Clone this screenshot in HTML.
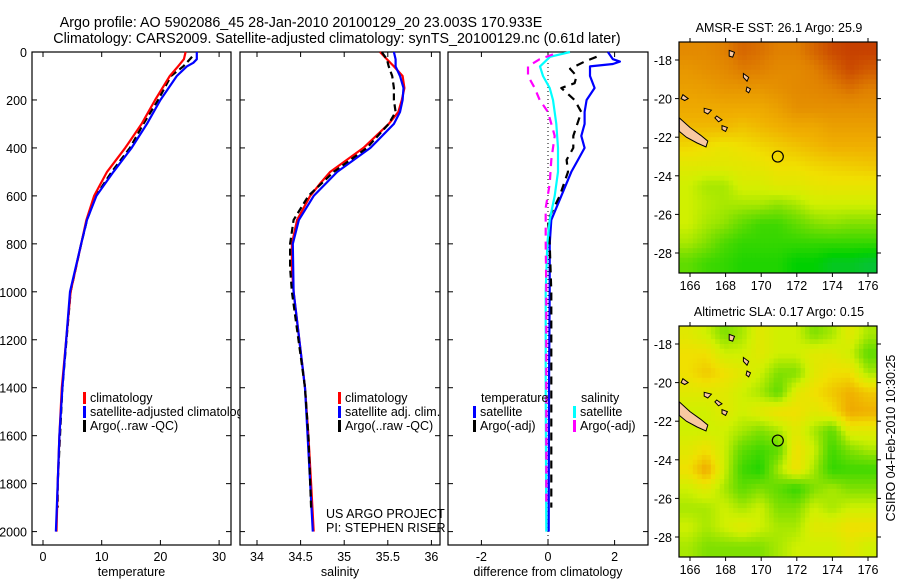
<!DOCTYPE html>
<html><head><meta charset="utf-8">
<style>
html,body{margin:0;padding:0;background:#fff;}
svg{display:block;font-family:"Liberation Sans",sans-serif;}
</style></head>
<body>
<svg id="fig" width="900" height="580" viewBox="0 0 900 580" xmlns="http://www.w3.org/2000/svg">
<text x="301" y="27" font-size="14.3" text-anchor="middle">Argo profile: AO 5902086_45 28-Jan-2010 20100129_20 23.003S 170.933E</text>
<text x="337" y="43" font-size="14.3" text-anchor="middle">Climatology: CARS2009. Satellite-adjusted climatology: synTS_20100129.nc (0.61d later)</text>
<g id="layer"></g>
</svg>
<script>
// ---------- data ----------
const depthTicks=[0,200,400,600,800,1000,1200,1400,1600,1800,2000];
const tempTicks=[0,10,20,30];
const salTicks=[34,34.5,35,35.5,36];
const diffTicks=[-2,0,2];
const lonTicks=[166,168,170,172,174,176];
const latTicks=[-18,-20,-22,-24,-26,-28];

const tClimDepth=[0,30,60,100,200,300,400,500,600,700,800,1000,1400,1600,1800,2000];
const tClim=[24.3,24.0,23.0,21.6,19.1,16.8,14.0,10.9,8.7,7.4,6.5,4.7,3.2,2.8,2.5,2.3];
const tSatDepth=[0,30,45,60,100,200,300,400,500,600,700,800,1000,1400,1600,1800,2000];
const tSat=[26.2,26.2,25.6,24.5,22.8,20.0,17.7,15.1,12.0,9.1,7.5,6.5,4.6,3.3,2.8,2.5,2.2];
const tArgoDepth=[20,60,100,200,300,400,500,600,700,800,1000,1400,1600,1800,1900];
const tArgo=[25.4,23.9,21.8,19.6,17.1,14.8,11.7,9.0,7.5,6.5,4.7,3.3,2.9,2.5,2.5];

const sClimDepth=[0,30,60,100,150,200,250,300,400,500,550,600,700,800,900,1000,1400,1600,1800,2000];
const sClim=[35.41,35.49,35.57,35.67,35.69,35.66,35.62,35.51,35.22,34.84,34.72,34.61,34.46,34.40,34.40,34.42,34.55,34.59,34.62,34.65];
const sSatDepth=[0,30,60,100,150,200,250,300,400,500,600,700,800,1000,1400,1600,1800,2000];
const sSat=[35.57,35.59,35.59,35.64,35.68,35.67,35.64,35.57,35.30,34.92,34.65,34.48,34.41,34.42,34.55,34.58,34.61,34.64];
const sArgoDepth=[0,30,60,100,150,200,250,300,400,500,600,700,800,900,1000,1400,1600,1800,1900];
const sArgo=[35.43,35.49,35.51,35.55,35.57,35.57,35.59,35.51,35.26,34.88,34.59,34.42,34.38,34.38,34.40,34.55,34.59,34.61,34.62];

const dTSatDepth=[0,30,40,50,60,100,150,200,250,300,350,400,450,500,600,700,800,1000,1400,2000];
const dTSat=[1.8,1.95,2.16,1.95,1.26,1.26,1.4,1.16,1.1,1.1,1.0,1.1,0.9,0.7,0.4,0.1,0.05,0.05,0.03,0.02];
const dTArgoDepth=[20,40,70,100,130,150,200,250,350,400,450,500,600,700,800,1000,1500,1900];
const dTArgo=[1.46,1.1,0.66,0.86,0.8,0.4,0.8,1.0,0.76,0.76,0.56,0.6,0.35,0.0,0.05,0.1,0.1,0.1];
const dSSatDepth=[0,20,60,100,150,200,300,400,500,600,700,800,1000,1400,2000];
const dSSat=[0.66,0.06,-0.24,-0.15,0.05,0.15,0.25,0.3,0.3,0.2,0.05,-0.02,-0.07,-0.07,-0.05];
const dSArgoDepth=[10,30,60,100,150,200,250,350,450,550,650,800,1000,1500,1900];
const dSArgo=[0.15,-0.25,-0.6,-0.6,-0.4,-0.25,0.0,0.2,0.1,0.05,-0.07,-0.07,-0.05,-0.05,-0.05];

// map grids: rows lat -17.5 .. -28.5, cols across lon 165.4..176.5 (0..1 colour index)
const sstGrid=[
[0.82,0.82,0.85,0.9,0.88,0.85,0.85,0.9,0.95,0.97,0.97],
[0.78,0.8,0.82,0.86,0.85,0.82,0.82,0.85,0.9,0.95,0.92],
[0.75,0.76,0.78,0.78,0.78,0.8,0.82,0.83,0.85,0.88,0.85],
[0.72,0.72,0.72,0.72,0.72,0.75,0.8,0.8,0.8,0.8,0.8],
[0.68,0.68,0.68,0.66,0.68,0.7,0.72,0.72,0.75,0.75,0.75],
[0.62,0.6,0.58,0.6,0.62,0.64,0.66,0.68,0.7,0.7,0.7],
[0.55,0.55,0.55,0.56,0.57,0.6,0.6,0.62,0.63,0.64,0.65],
[0.5,0.45,0.45,0.52,0.52,0.55,0.55,0.57,0.58,0.58,0.58],
[0.5,0.47,0.45,0.45,0.45,0.42,0.45,0.5,0.5,0.5,0.5],
[0.5,0.45,0.42,0.35,0.3,0.3,0.35,0.4,0.42,0.4,0.4],
[0.45,0.4,0.32,0.28,0.28,0.28,0.28,0.28,0.28,0.28,0.28],
[0.35,0.3,0.28,0.25,0.25,0.25,0.2,0.2,0.15,0.15,0.12]];
const slaGrid=[
[0.55,0.5,0.4,0.45,0.55,0.5,0.5,0.4,0.45,0.55,0.45],
[0.6,0.6,0.5,0.5,0.55,0.5,0.5,0.55,0.55,0.5,0.35],
[0.6,0.65,0.6,0.55,0.5,0.4,0.4,0.55,0.6,0.6,0.45],
[0.55,0.55,0.55,0.5,0.45,0.35,0.55,0.6,0.65,0.7,0.65],
[0.5,0.5,0.55,0.5,0.55,0.6,0.6,0.55,0.6,0.72,0.7],
[0.5,0.5,0.5,0.45,0.4,0.45,0.55,0.45,0.35,0.55,0.55],
[0.55,0.6,0.5,0.35,0.3,0.35,0.6,0.5,0.3,0.4,0.45],
[0.6,0.72,0.5,0.3,0.25,0.45,0.6,0.45,0.28,0.3,0.3],
[0.5,0.55,0.45,0.35,0.4,0.35,0.28,0.4,0.45,0.4,0.4],
[0.45,0.45,0.5,0.45,0.5,0.4,0.4,0.5,0.45,0.5,0.5],
[0.5,0.45,0.5,0.55,0.5,0.45,0.45,0.55,0.55,0.6,0.6],
[0.45,0.4,0.4,0.4,0.4,0.45,0.5,0.5,0.5,0.55,0.5]];
const argoLon=170.933, argoLat=-23.003;

// ---------- helpers ----------
const NS="http://www.w3.org/2000/svg";
const layer=document.getElementById('layer');
function mk(tag,attrs,parent){const e=document.createElementNS(NS,tag);for(const k in attrs)e.setAttribute(k,attrs[k]);(parent||layer).appendChild(e);return e;}
function txt(x,y,s,size,anchor,parent){const e=mk('text',{x:x,y:y,'font-size':size,'text-anchor':anchor||'start'},parent);e.textContent=s;return e;}

const yTop=52, yScale=0.2398;
const yD=d=>yTop+d*yScale;

function panel(name,x0,x1,xf,xticks,xlabel){
  const g=mk('g',{});
  
  
  const r=mk('rect',{x:x0,y:52,width:x1-x0,height:493,fill:'#fff',stroke:'#000','stroke-width':1.2},g);
  
  
  xticks.forEach(v=>{const X=xf(v);
    mk('line',{x1:X,x2:X,y1:52,y2:57,stroke:'#000'},g);
    mk('line',{x1:X,x2:X,y1:545,y2:540,stroke:'#000'},g);
    const t=txt(X,561,String(v),12.5,'middle',g);
    
    
  });
  depthTicks.forEach(d=>{const Y=yD(d);
    mk('line',{x1:x0,x2:x0+5,y1:Y,y2:Y,stroke:'#000'},g);
    mk('line',{x1:x1,x2:x1-5,y1:Y,y2:Y,stroke:'#000'},g);
  });
  const xl=txt((x0+x1)/2,576,xlabel,12.5,'middle',g);
  
  
  return g;
}
function series(g,name,depths,vals,xf,color,dash,w){
  const pts=depths.map((d,i)=>xf(vals[i]).toFixed(1)+','+yD(d).toFixed(1)).join(' ');
  const p=mk('polyline',{points:pts,fill:'none',stroke:color,'stroke-width':w||2.2,'stroke-linejoin':'round'},g);
  if(dash)p.setAttribute('stroke-dasharray',dash);
  
  
}
function legend(g,name,x,y,color,label){
  const b=mk('rect',{x:x,y:y-10,width:3,height:12,fill:color},g);
  
  
  const t=txt(x+7,y,label,12.5,'start',g);
  
  
}

const ya=mk('g',{});


depthTicks.forEach(d=>{const t=txt(27,yD(d)+5,String(d),12.5,'end',ya);
  
  });

// panel 1 temperature
const xT=v=>43+v*5.87;
const g1=panel('temperature',32,231,xT,tempTicks,'temperature');
series(g1,'temperature-argo-line',tArgoDepth,tArgo,xT,'#000','7,4');
series(g1,'temperature-climatology-line',tClimDepth,tClim,xT,'#f00');
series(g1,'temperature-satellite-adjusted-line',tSatDepth,tSat,xT,'#00f');
legend(g1,'legend-climatology',83,402,'#f00','climatology');
legend(g1,'legend-satellite-adjusted',83,416,'#00f','satellite-adjusted climatology');
legend(g1,'legend-argo',83,430,'#000','Argo(..raw -QC)');

// panel 2 salinity
const xS=v=>257+(v-34)*87.2;
const g2=panel('salinity',240,440,xS,salTicks,'salinity');
series(g2,'salinity-climatology-line',sClimDepth,sClim,xS,'#f00');
series(g2,'salinity-satellite-adjusted-line',sSatDepth,sSat,xS,'#00f');
series(g2,'salinity-argo-line',sArgoDepth,sArgo,xS,'#000','7,4');
legend(g2,'legend-sal-climatology',338,402,'#f00','climatology');
legend(g2,'legend-sal-satellite',338,416,'#00f','satellite adj. clim.');
legend(g2,'legend-sal-argo',338,430,'#000','Argo(..raw -QC)');
const c1=txt(326,518,'US ARGO PROJECT',12.5,'start',g2);


const c2=txt(326,532,'PI: STEPHEN RISER',12.5,'start',g2);



// panel 3 differences
const xDf=v=>548+v*33.3;
const g3=panel('difference',448,648,xDf,diffTicks,'difference from climatology');
const zl=mk('line',{x1:xDf(0),x2:xDf(0),y1:55,y2:540,stroke:'#000','stroke-width':1,'stroke-dasharray':'1,3'},g3);


series(g3,'diff-temperature-satellite-line',dTSatDepth,dTSat,xDf,'#00f');
series(g3,'diff-temperature-argo-line',dTArgoDepth,dTArgo,xDf,'#000','8,6');
series(g3,'diff-salinity-satellite-line',dSSatDepth,dSSat,xDf,'#0ff');
series(g3,'diff-salinity-argo-line',dSArgoDepth,dSArgo,xDf,'#f0f','8,6');
const lt=txt(481,402,'temperature',12.5,'start',g3);


const ls=txt(581,402,'salinity',12.5,'start',g3);


legend(g3,'legend-diff-temp-satellite',473,416,'#00f','satellite');
legend(g3,'legend-diff-temp-argo',473,430,'#000','Argo(-adj)');
legend(g3,'legend-diff-sal-satellite',573,416,'#0ff','satellite');
legend(g3,'legend-diff-sal-argo',573,430,'#f0f','Argo(-adj)');

// ---------- maps ----------
const cstops=[[0,[16,176,128]],[0.2,[0,208,0]],[0.4,[128,224,0]],[0.5,[208,240,0]],[0.6,[240,224,0]],[0.7,[240,176,0]],[0.85,[224,128,0]],[1,[192,48,0]]];
function cmap(v){for(let i=1;i<cstops.length;i++){if(v<=cstops[i][0]){const a=cstops[i-1],b=cstops[i],t=(v-a[0])/(b[0]-a[0]);
  const c=a[1].map((q,k)=>Math.round(q+(b[1][k]-q)*t));return 'rgb('+c.join(',')+')';}}return 'rgb(192,48,0)';}
function sample(grid,fr,fc){
  const nr=grid.length,nc=grid[0].length;
  const r=Math.min(Math.max(fr-0.5,0),nr-1), c=Math.min(Math.max(fc-0.5,0),nc-1);
  const r0=Math.floor(r),c0=Math.floor(c),r1=Math.min(r0+1,nr-1),c1=Math.min(c0+1,nc-1);
  const tr=r-r0,tc=c-c0;
  return (grid[r0][c0]*(1-tc)+grid[r0][c1]*tc)*(1-tr)+(grid[r1][c0]*(1-tc)+grid[r1][c1]*tc)*tr;
}

const islands=[
 [[165.4,-21.0],[166.0,-21.5],[166.6,-21.9],[167.0,-22.2],[166.9,-22.5],[166.4,-22.3],[165.8,-22.0],[165.4,-21.7]],
 [[168.2,-17.5],[168.5,-17.6],[168.4,-17.85],[168.2,-17.8]],
 [[169.0,-18.7],[169.3,-18.9],[169.2,-19.1],[169.0,-18.9]],
 [[169.2,-19.4],[169.4,-19.5],[169.3,-19.7],[169.15,-19.6]],
 [[165.6,-19.8],[165.9,-20.0],[165.7,-20.1],[165.5,-20.0]],
 [[166.8,-20.5],[167.2,-20.6],[167.0,-20.8],[166.8,-20.7]],
 [[167.5,-20.9],[167.8,-21.1],[167.6,-21.2],[167.4,-21.0]],
 [[167.8,-21.4],[168.1,-21.5],[168.0,-21.7],[167.8,-21.6]]
];

function map(name,top,bottom,grid,title,lat18y){
  const L=679,R=877,lon0=165.4,lon1=176.5;
  const py=lat=>lat18y+(lat+18)*-19.3;
  const px=lon=>690+(lon-166)*17.8;
  const g=mk('g',{});
  
  
  const clip=mk('clipPath',{id:name+'-clip'},g);
  mk('rect',{x:L,y:top,width:R-L,height:bottom-top},clip);
  const cells=mk('g',{'clip-path':'url(#'+name+'-clip)'},g);
  const nr=grid.length,nc=grid[0].length,sub=4;
  const latTop=-17.0, dLat=1.0/sub, dLon=(lon1-lon0)/nc/sub;
  for(let r=0;r<nr*sub;r++)for(let c=0;c<nc*sub;c++){
    const y0=py(latTop-r*dLat), y1=py(latTop-(r+1)*dLat);
    const x0=px(lon0+c*dLon), x1=px(lon0+(c+1)*dLon);
    const v=sample(grid,(r+0.5)/sub,(c+0.5)/sub);
    const cell=mk('rect',{x:x0.toFixed(1),y:y0.toFixed(1),width:(x1-x0+0.6).toFixed(1),height:(y1-y0+0.6).toFixed(1),fill:cmap(v)},cells);
    
    
  }
  islands.forEach(poly=>{
    const p=mk('polygon',{points:poly.map(q=>px(q[0]).toFixed(1)+','+py(q[1]).toFixed(1)).join(' '),fill:'#f8c8a0',stroke:'#000','stroke-width':1},cells);
    
    
  });
  const ac=mk('circle',{cx:px(argoLon),cy:py(argoLat),r:5.5,fill:'none',stroke:'#000','stroke-width':1.2},cells);
  
  
  mk('rect',{x:L,y:top,width:R-L,height:bottom-top,fill:'none',stroke:'#000','stroke-width':1.2},g);
  lonTicks.forEach(v=>{const X=px(v);
    mk('line',{x1:X,x2:X,y1:top,y2:top-4,stroke:'#000'},g);
    mk('line',{x1:X,x2:X,y1:bottom,y2:bottom+4,stroke:'#000'},g);
    const t=txt(X,bottom+17,String(v),12.5,'middle',g);
    
    });
  latTicks.forEach(v=>{const Y=py(v);
    mk('line',{x1:L,x2:L-4,y1:Y,y2:Y,stroke:'#000'},g);
    mk('line',{x1:R,x2:R+4,y1:Y,y2:Y,stroke:'#000'},g);
    const t=txt(L-7,Y+5,'-'+Math.abs(v),12.5,'end',g);
    
    });
  const tt=txt(779,top-10,title,12.5,'middle',g);
  
  
}
map('sst',42,273,sstGrid,'AMSR-E SST: 26.1 Argo: 25.9',60);
map('sla',326,557,slaGrid,'Altimetric SLA: 0.17 Argo: 0.15',344);

const stamp=txt(0,0,'CSIRO 04-Feb-2010 10:30:25',12.5,'middle');
stamp.setAttribute('transform','translate(895,438) rotate(-90)');


</script>
</body></html>
